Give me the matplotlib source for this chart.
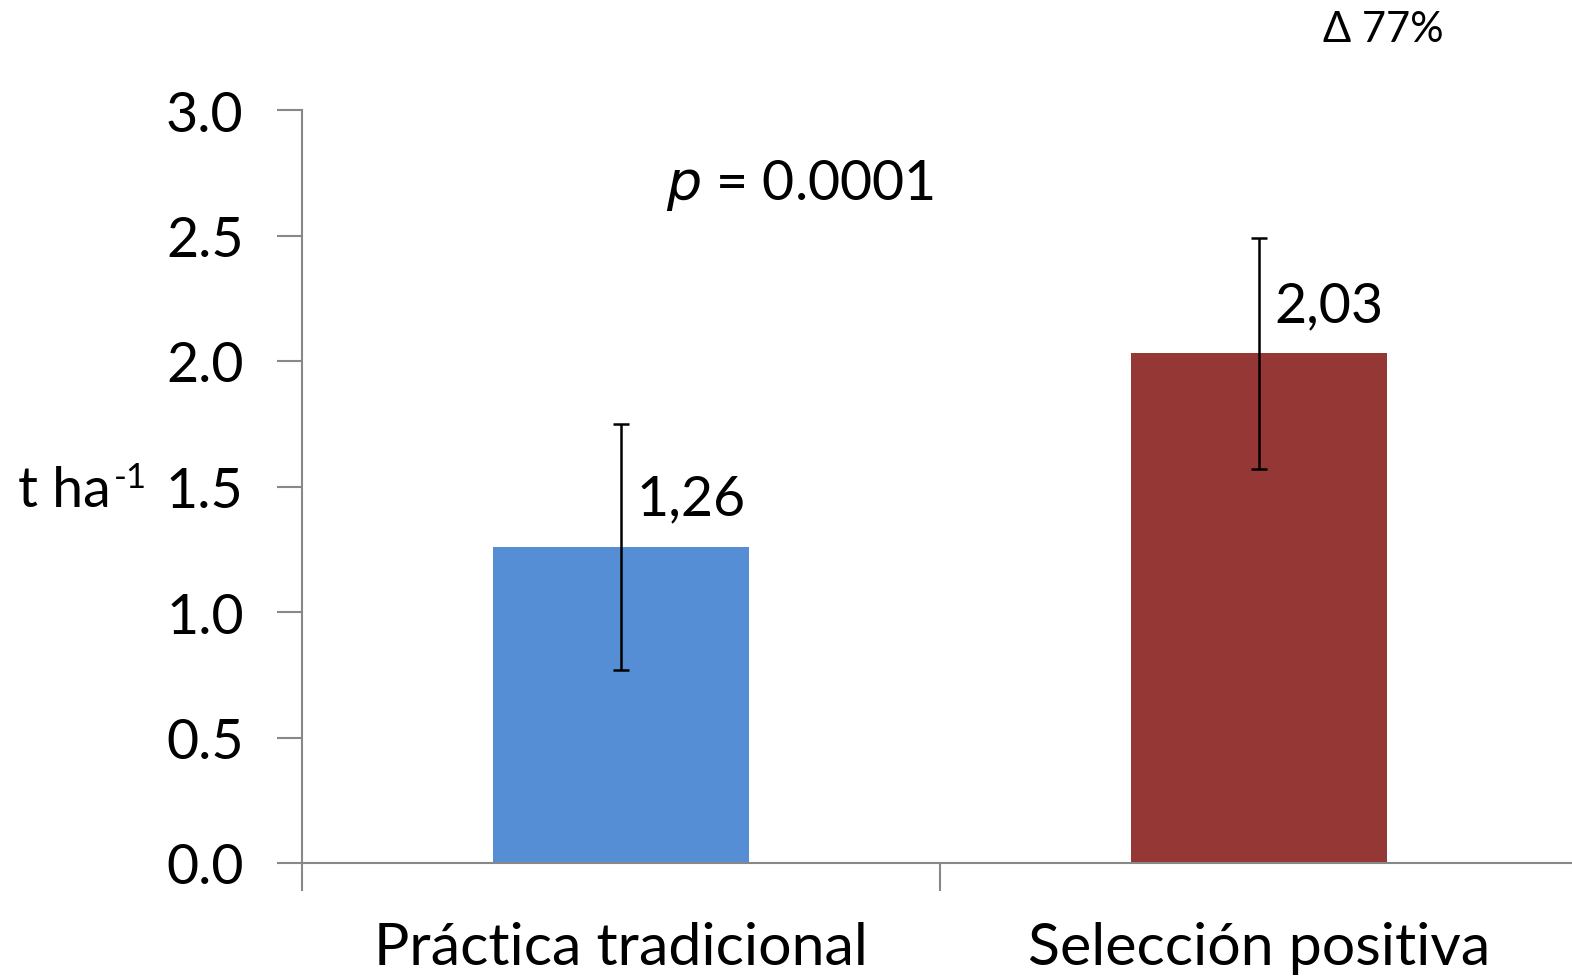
import numpy as np
import matplotlib.pyplot as plt

plt.rcParams['font.family'] = ['Lato', 'DejaVu Sans']

categories = ['Práctica tradicional', 'Selección positiva']
yields = [1.26, 2.03]
errors = [0.49, 0.46]
value_labels = ['1,26', '2,03']
colors = ['#558ed5', '#953735']
yticks = [0.0, 0.5, 1.0, 1.5, 2.0, 2.5, 3.0]

W, H = 1572, 979
fig = plt.figure(figsize=(W / 100, H / 100), dpi=100)
ax = fig.add_axes([302 / W, (H - 864) / H, (1578 - 302) / W, (864 - 111) / H])

x = np.arange(len(categories))
ax.bar(x, yields, width=0.4, color=colors, zorder=2)
ax.errorbar(x, yields, yerr=errors, fmt='none', ecolor='black',
            elinewidth=1.8, capsize=6, capthick=1.8, zorder=3)

for xi, y, lab in zip(x, yields, value_labels):
    ax.text(xi + 0.024, y + 0.19, lab, fontsize=40, ha='left', va='center')

ax.set_xlim(-0.5, 1.5)
ax.set_ylim(0, 3.0)
ax.set_yticks(yticks)
ax.set_yticklabels([f'{t:.1f}' for t in yticks])
ax.set_xticks([-0.5, 0.5, 1.5])
ax.set_xticklabels([])
ax.set_xticks(x, minor=True)
ax.set_xticklabels(categories, minor=True, fontsize=42.5)
ax.tick_params(axis='x', which='minor', length=0, pad=42)
ax.tick_params(axis='x', which='major', length=20, width=1.5, color='#888888', direction='out')
ax.tick_params(axis='y', length=18, width=1.5, color='#888888', labelsize=40, pad=24)

for s in ['top', 'right']:
    ax.spines[s].set_visible(False)
for s in ['left', 'bottom']:
    ax.spines[s].set_color('#888888')
    ax.spines[s].set_linewidth(1.5)

ax.text(0.28, 2.705, r'$\it{p}$ = 0.0001', fontsize=40, ha='center', va='center')
fig.text(1383 / W, 1 - 30 / H, 'Δ 77%', fontsize=30, ha='center', va='center')

# y-axis unit, with a plain-hyphen superscript
fig.text(18 / W, 1 - 492 / H, 't ha', fontsize=40, ha='left', va='center')
fig.text(114 / W, 1 - 478 / H, '-1', fontsize=25, ha='left', va='center')

fig.savefig('out.png', dpi=100)
